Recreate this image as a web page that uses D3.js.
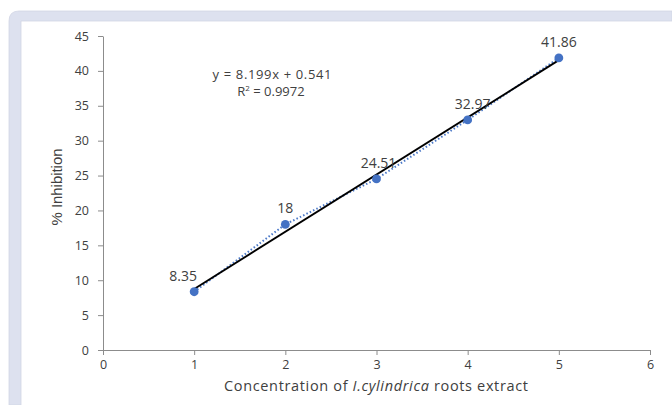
<!DOCTYPE html>
<html>
<head>
<meta charset="utf-8">
<script src="https://cdn.jsdelivr.net/npm/d3@7"></script>
<style>
  html, body { margin: 0; padding: 0; background: #fff; }
  svg { display: block; }
  text { font-family: "Open Sans", "Liberation Sans", sans-serif; fill: #404040; }
</style>
</head>
<body>
<svg id="chart" width="672" height="405"></svg>
<script>
// Inhibition (%) versus extract concentration
const concentrations = [1, 2, 3, 4, 5];
const inhibition = [8.35, 18, 24.51, 32.97, 41.86];
const xTicks = [0, 1, 2, 3, 4, 5, 6];
const yTicks = [0, 5, 10, 15, 20, 25, 30, 35, 40, 45];
const slope = 8.199, intercept = 0.541, r2 = 0.9972;

const svg = d3.select("#chart");

// Outer panel frame
svg.append("path")
  .attr("d", "M9,405 L9,21 Q9,11 19,11 L672,11 L672,21 L21,21 L21,405 Z")
  .attr("fill", "#dde1ef")
  .attr("stroke", "#d2d6e4")
  .attr("stroke-width", 0.8);

const x = d3.scaleLinear().domain([0, 6]).range([103, 650]);
const y = d3.scaleLinear().domain([0, 45]).range([350, 36]);

const axisColor = "#8c8c8c";

// Y axis
const gy = svg.append("g").attr("transform", `translate(${x(0)},0)`)
  .call(d3.axisLeft(y).tickValues(yTicks).tickFormat(d3.format("d"))
    .tickSize(5).tickPadding(9).tickSizeOuter(0));
gy.select(".domain").attr("stroke", axisColor);
gy.selectAll(".tick line").attr("stroke", axisColor);
gy.selectAll(".tick text").attr("font-size", 12.5).attr("fill", "#404040")
  .style("font-family", "'Open Sans', sans-serif");

// X axis
const gx = svg.append("g").attr("transform", `translate(0,${y(0)})`)
  .call(d3.axisBottom(x).tickValues(xTicks).tickFormat(d3.format("d"))
    .tickSize(5).tickPadding(5).tickSizeOuter(0));
gx.select(".domain").attr("stroke", axisColor);
gx.selectAll(".tick line").attr("stroke", axisColor);
gx.selectAll(".tick text").attr("font-size", 12.5).attr("fill", "#404040")
  .style("font-family", "'Open Sans', sans-serif");

// Dotted series line through the measurements
const line = d3.line().x((d, i) => x(concentrations[i])).y(d => y(d));
svg.append("path")
  .datum(inhibition)
  .attr("d", line)
  .attr("fill", "none")
  .attr("stroke", "#4a78c8")
  .attr("stroke-width", 2)
  .attr("stroke-dasharray", "1.5,2.2");

// Linear trend line
const x0 = d3.min(concentrations), x1 = d3.max(concentrations);
svg.append("line")
  .attr("x1", x(x0)).attr("y1", y(slope * x0 + intercept))
  .attr("x2", x(x1)).attr("y2", y(slope * x1 + intercept))
  .attr("stroke", "#000").attr("stroke-width", 1.9);

// Markers
svg.selectAll("circle.pt")
  .data(inhibition)
  .enter().append("circle")
  .attr("class", "pt")
  .attr("cx", (d, i) => x(concentrations[i]))
  .attr("cy", d => y(d))
  .attr("r", 4.4)
  .attr("fill", "#4472c4");

// Value labels
const labelDx = [-11, 0, 2, 5, 0];
svg.selectAll("text.val")
  .data(inhibition)
  .enter().append("text")
  .attr("class", "val")
  .attr("x", (d, i) => x(concentrations[i]) + labelDx[i])
  .attr("y", d => y(d) - 11)
  .attr("text-anchor", "middle")
  .attr("font-size", 14)
  .text(d => d);

// Regression equation
svg.append("text")
  .attr("x", 272).attr("y", 79)
  .attr("text-anchor", "middle").attr("font-size", 13)
  .attr("textLength", 119)
  .text(`y = ${slope}x + ${intercept}`);
const r2t = svg.append("text")
  .attr("x", 271).attr("y", 96)
  .attr("text-anchor", "middle").attr("font-size", 13);
r2t.append("tspan").text("R");
r2t.append("tspan").attr("font-size", 8).attr("dy", -5).text("2");
r2t.append("tspan").attr("dy", 5).text(` = ${r2}`);

// Axis titles
svg.append("text")
  .attr("transform", `translate(62,187) rotate(-90)`)
  .attr("text-anchor", "middle")
  .attr("font-size", 14.5)
  .attr("textLength", 77)
  .attr("lengthAdjust", "spacingAndGlyphs")
  .style("font-family", "'Liberation Sans Narrow', 'Liberation Sans', sans-serif")
  .text("% Inhibition");

const xt = svg.append("text")
  .attr("x", 376).attr("y", 391)
  .attr("text-anchor", "middle")
  .attr("font-size", 14.5)
  .attr("textLength", 304);
xt.append("tspan").text("Concentration of ");
xt.append("tspan").attr("font-style", "italic").text("I.cylindrica");
xt.append("tspan").text(" roots extract");
</script>
</body>
</html>
